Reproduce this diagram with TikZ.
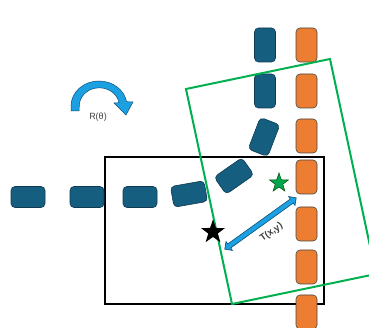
\documentclass[tikz,border=0pt]{standalone}
\usepackage{fontspec}
\setmainfont{Liberation Sans}
\usetikzlibrary{shapes.geometric}
\usetikzlibrary{shapes.arrows}
\usetikzlibrary{calc}
\definecolor{laneblue}{RGB}{21,94,128}
\definecolor{laneline}{RGB}{14,58,82}
\definecolor{coneorange}{RGB}{237,125,49}
\definecolor{coneline}{RGB}{70,70,70}
\definecolor{framegreen}{RGB}{0,176,80}
\definecolor{stargreen}{RGB}{0,166,80}
\definecolor{arrowblue}{RGB}{27,161,226}
\definecolor{arrowline}{RGB}{14,78,118}
\tikzset{x=1pt, y=1pt,
 seg/.style={draw=laneline, fill=laneblue, line width=0.6pt,
   rounded corners=4pt, minimum width=34pt, minimum height=21pt, inner sep=0pt},
 cone/.style={draw=coneline, fill=coneorange, line width=0.6pt,
   rounded corners=4pt, minimum width=21pt, minimum height=34pt, inner sep=0pt},
 mark star/.style={star, star points=5, star point ratio=2.5, inner sep=0pt},
 small label/.style={font=\fontsize{9}{10}\selectfont, text=black!75},
 }

\begin{document}
\begin{tikzpicture}
    \useasboundingbox (0,0) rectangle (369,328);
    \clip (0,0) rectangle (369,328);

    \draw[line width=2.4pt] (105,24) rectangle (324,171);

    % lane marks bending into the vertical
    \node[seg] (b1) at (28,131) {};
    \node[seg] (b2) at (87,131) {};
    \node[seg] (b3) at (140,131) {};
    \node[seg, rotate=10] (b4) at (189,134) {};
    \node[seg, rotate=35] (b5) at (234,152) {};
    \node[seg, rotate=69] (b6) at (264,191) {};
    \node[seg, rotate=90] (b7) at (265,237) {};
    \node[seg, rotate=90] (b8) at (265,283) {};

    \node[cone] (o1) at (306.5,283) {};
    \node[cone] (o2) at (306.5,237) {};
    \node[cone] (o3) at (306.5,192) {};
    \node[cone] (o4) at (306.5,151) {};
    \node[cone] (o5) at (306.5,104) {};
    \node[cone] (o6) at (306.5,61) {};
    \node[cone] (o7) at (306.5,16) {};

    \draw[framegreen, line width=2pt] (186,239) -- (330,269) -- (376,54) -- (232,24) -- cycle;

    \node[mark star, fill=black, minimum size=25pt] (refstar) at (213,96) {};
    \node[mark star, fill=stargreen, draw=black!70!green, line width=0.5pt,
        minimum size=20pt] (carstar) at (279,145) {};

    \coordinate (tA) at (225,79);
    \coordinate (tB) at (296,130);
    \node[double arrow, fill=arrowblue, draw=arrowline, line width=0.6pt,
        rotate=35.7, minimum height=88pt, minimum width=11pt, inner sep=2.2pt,
        double arrow head extend=3pt] (shift) at ($(tA)!0.5!(tB)$) {};
    \node[small label, font=\fontsize{9.5}{10}\selectfont\bfseries, rotate=35.7] (shiftlabel)
        at (271.5,95.5) {T(x,y)};

    % rotation sign
    \filldraw[fill=arrowblue, draw=arrowline, line width=0.5pt]
        (71,217) -- (71,222) arc[start angle=180, end angle=10, x radius=28pt, y radius=25pt]
        -- (133,226) -- (126,213) -- (114,225)
        -- (119,225.3) arc[start angle=10, end angle=180, x radius=20pt, y radius=18pt]
        -- (79,217) -- cycle;
    \node[small label] (rotlabel) at (98,211) {R(θ)};
\end{tikzpicture}
\end{document}
